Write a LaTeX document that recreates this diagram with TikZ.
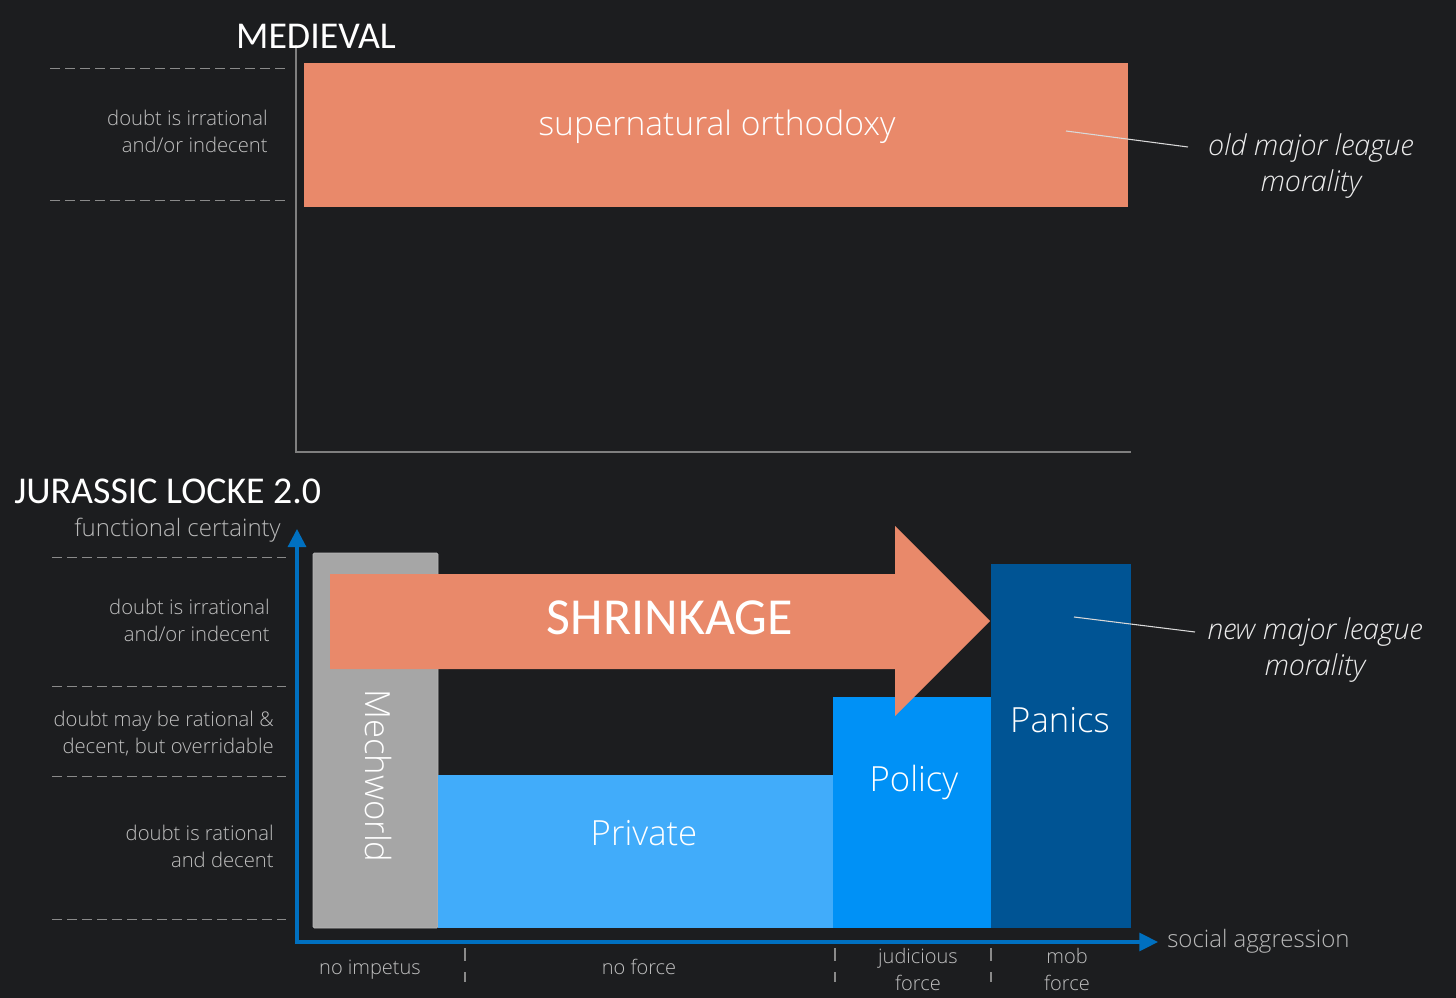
\documentclass[tikz,border=0pt]{standalone}
\usepackage{fontspec}
\setmainfont{Carlito}
\newfontfamily\lt{Open Sans Light}
\newfontfamily\lti{Open Sans Light Italic}
\usetikzlibrary{arrows.meta}
\definecolor{bg}{HTML}{1C1D1F}
\definecolor{axgray}{HTML}{7F7F7F}
\definecolor{dashgray}{HTML}{8A8A8A}
\definecolor{txtgray}{HTML}{BFBFBF}
\definecolor{orng}{HTML}{E9896A}
\definecolor{axblue}{HTML}{0070C0}
\definecolor{cprivate}{HTML}{41ACFA}
\definecolor{cpolicy}{HTML}{0091F6}
\definecolor{cpanics}{HTML}{005494}
\definecolor{cmech}{HTML}{A6A6A6}
\begin{document}
\begin{tikzpicture}[x=0.75pt,y=-0.75pt,
  lbl/.style={font=\lt\fontsize{15.2}{20}\selectfont, text=txtgray, inner sep=0pt, align=right},
  axlbl/.style={font=\lt\fontsize{18}{24}\selectfont, text=txtgray!110, inner sep=0pt},
  botlbl/.style={font=\lt\fontsize{15}{20}\selectfont, text=txtgray, inner sep=0pt, align=center},
  title/.style={font=\fontsize{28.4}{32}\selectfont, text=white, inner sep=0pt},
  barlbl/.style={font=\lt\fontsize{26}{30}\selectfont, text=white, inner sep=0pt},
  itl/.style={font=\lti\fontsize{21.5}{27}\selectfont, text=white!92!black, inner sep=0pt, align=center},
  dashline/.style={draw=dashgray, line width=0.75pt, dash pattern=on 7.5pt off 3.75pt},
  tickline/.style={draw=dashgray, line width=0.9pt, dash pattern=on 10pt off 8pt},
  pointer/.style={draw=white!85!black, line width=0.8pt},
  grayaxis/.style={draw=axgray, line width=1.2pt},
  blueaxis/.style={draw=axblue, line width=2.3pt}
]
\useasboundingbox (0,0) rectangle (1456,998);
\fill[bg] (0,0) rectangle (1456,998);

% ---------------- MEDIEVAL ----------------
\coordinate (m_top) at (296,45);
\coordinate (m_o) at (296,452);
\coordinate (m_x) at (1131,452);
\draw[grayaxis] (m_top) -- (m_o) -- (m_x);
\node[title] (medieval) at (316,36) {MEDIEVAL};

\coordinate (md1a) at (50,69);  \coordinate (md1b) at (285,69);
\coordinate (md2a) at (50,201); \coordinate (md2b) at (285,201);
\draw[dashline] (md1a) -- (md1b);
\draw[dashline] (md2a) -- (md2b);
\node[lbl, anchor=east] (mtxt) at (268,131.5) {doubt is irrational\\and/or indecent};

\fill[orng] (304,63) rectangle (1128,207);
\node[font=\lt\fontsize{25.2}{30}\selectfont, text=white, inner sep=0pt] (super) at (717,127) {supernatural orthodoxy};

\coordinate (p1s) at (1066,131);
\coordinate (p1e) at (1188,147);
\draw[pointer] (p1s) -- (p1e);
\node[itl] (oldml) at (1311,166) {old major league\\morality};

% ---------------- JURASSIC LOCKE ----------------
\node[title, anchor=west] (jur) at (14,491) {JURASSIC LOCKE 2.0};
\node[axlbl, anchor=east] (func) at (281,530) {functional certainty};

\foreach \yy/\nm in {557/ja,686/jb,776/jc,919/jd}{
  \coordinate (\nm1) at (52,\yy); \coordinate (\nm2) at (286,\yy);
  \draw[dashline] (\nm1) -- (\nm2);
}
\node[lbl, anchor=east] (j1) at (270,620.5) {doubt is irrational\\and/or indecent};
\node[lbl, anchor=east] (j2) at (274,733.5) {doubt may be rational \&\\decent, but overridable};
\node[lbl, anchor=east] (j3) at (274,846.5) {doubt is rational\\and decent};

% bars
\filldraw[fill=cmech, draw=cmech!80!white, line width=0.6pt, rounded corners=1pt] (313,553) rectangle (438,928);
\fill[cprivate] (438,775) rectangle (833,928);
\fill[cpolicy] (833,697) rectangle (991,928);
\fill[cpanics] (991,564) rectangle (1131,928);

% shrinkage arrow
\fill[orng] (330,574) -- (895,574) -- (895,526) -- (990,621) -- (895,716) -- (895,669) -- (330,669) -- cycle;
\node[font=\fontsize{39}{44}\selectfont, text=white, inner sep=0pt] (shrink) at (670,618) {SHRINKAGE};

\node[barlbl, rotate=-90] (mech) at (378,776) {Mechworld};
\node[barlbl] (priv) at (644,833) {Private};
\node[barlbl] (pol) at (914,782) {Policy};
\node[barlbl] (pan) at (1060,720) {Panics};

\coordinate (p2s) at (1074,617);
\coordinate (p2e) at (1195,632);
\draw[pointer] (p2s) -- (p2e);
\node[itl] (newml) at (1315,650) {new major league\\morality};

% axes
\coordinate (jo) at (297,942);
\coordinate (jy) at (297,529);
\coordinate (jx) at (1158,942);
\draw[blueaxis, {Triangle[length=13.5pt,width=13.5pt]}-{Triangle[length=14pt,width=13.5pt]}] (jy) -- (jo) -- (jx);
\node[axlbl, anchor=west] (soc) at (1167,941) {social aggression};

% bottom labels
\foreach \xx/\nm in {465/ta,835/tb,991/tc}{
  \coordinate (\nm1) at (\xx,948); \coordinate (\nm2) at (\xx,982);
  \draw[tickline] (\nm1) -- (\nm2);
}
\node[botlbl, anchor=base] (noimp) at (370,974) {no impetus};
\node[botlbl, anchor=base] (noforce) at (639,974) {no force};
\node[botlbl] (jud) at (918,969.5) {judicious\\force};
\node[botlbl] (mob) at (1067,969.5) {mob\\force};
\end{tikzpicture}
\end{document}
